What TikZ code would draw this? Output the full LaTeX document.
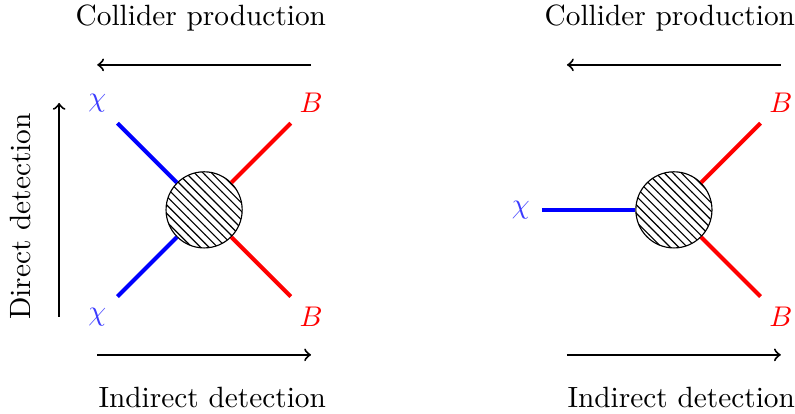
\documentclass[tikz,border=0pt]{standalone}
\usepackage{tikz}
\usetikzlibrary{positioning}
\usetikzlibrary{patterns}
\usetikzlibrary{calc}
\definecolor{chiblue}{RGB}{60,60,255}

\tikzset{
  blob/.style={circle, draw, thin, pattern=north west lines, minimum size=0.94cm, inner sep=0pt},
  dmline/.style={blue, line width=1.4pt},
  smline/.style={red, line width=1.4pt},
  flow/.style={->, line width=0.7pt},
  proc/.style={font=\fontsize{10.3pt}{12pt}\selectfont},
  chilabel/.style={text=chiblue, proc},
  blabel/.style={text=red, proc},
}

\begin{document}
\begin{tikzpicture}
\useasboundingbox (0,0) rectangle (9.815,5.111);

%---------------------------------------
% Shared sizes
%---------------------------------------
\def\R{1.07}   % leg end
\def\L{1.32}   % particle labels
\def\A{1.79}   % process arrows

%====================================================
% LEFT PANEL: 2 -> 2
%====================================================
\begin{scope}[shift={(2.52,2.52)}]
  \node[blob] (blobL) at (0,0) {};

  % legs
  \coordinate (chiTL) at (-\R,\R);
  \coordinate (chiBL) at (-\R,-\R);
  \coordinate (bTL) at (\R,\R);
  \coordinate (bBL) at (\R,-\R);
  \draw[dmline] (chiTL) -- (blobL);
  \draw[dmline] (chiBL) -- (blobL);
  \draw[smline] (bTL) -- (blobL);
  \draw[smline] (bBL) -- (blobL);

  \node[chilabel] (chiTLlab) at (-\L,\L) {$\chi$};
  \node[chilabel] (chiBLlab) at (-\L,-\L) {$\chi$};
  \node[blabel] (bTLlab) at (\L,\L) {$B$};
  \node[blabel] (bBLlab) at (\L,-\L) {$B$};

  % Collider production
  \coordinate (colRL) at (\L,\A);
  \coordinate (colLL) at (-\L,\A);
  \draw[flow] (colRL) -- (colLL);
  \node[proc] (colTxtL) at (-0.04,2.37) {Collider production};

  % Indirect detection
  \coordinate (indLL) at (-\L,-\A);
  \coordinate (indRL) at (\L,-\A);
  \draw[flow] (indLL) -- (indRL);
  \node[proc] (indTxtL) at (0.10,-2.32) {Indirect detection};

  % Direct detection
  \coordinate (dirBL) at (-\A,-\L);
  \coordinate (dirTL) at (-\A,\L);
  \draw[flow] (dirBL) -- (dirTL);
  \node[proc, rotate=90] (dirTxtL) at (-2.27,-0.08) {Direct detection};
\end{scope}

%====================================================
% RIGHT PANEL: 1 -> 2
%====================================================
\begin{scope}[shift={(8.32,2.52)}]
  \node[blob] (blobR) at (0,0) {};

  % legs
  \coordinate (chiR) at (-1.63,0);
  \coordinate (bTR) at (\R,\R);
  \coordinate (bBR) at (\R,-\R);
  \draw[dmline] (chiR) -- (blobR);
  \draw[smline] (bTR) -- (blobR);
  \draw[smline] (bBR) -- (blobR);

  \node[chilabel] (chiRlab) at (-1.89,0) {$\chi$};
  \node[blabel] (bTRlab) at (\L,\L) {$B$};
  \node[blabel] (bBRlab) at (\L,-\L) {$B$};

  % Collider production
  \coordinate (colRR) at (\L,\A);
  \coordinate (colLR) at (-\L,\A);
  \draw[flow] (colRR) -- (colLR);
  \node[proc] (colTxtR) at (-0.05,2.37) {Collider production};

  % Indirect detection
  \coordinate (indLR) at (-\L,-\A);
  \coordinate (indRR) at (\L,-\A);
  \draw[flow] (indLR) -- (indRR);
  \node[proc] (indTxtR) at (0.09,-2.32) {Indirect detection};
\end{scope}

\end{tikzpicture}
\end{document}
